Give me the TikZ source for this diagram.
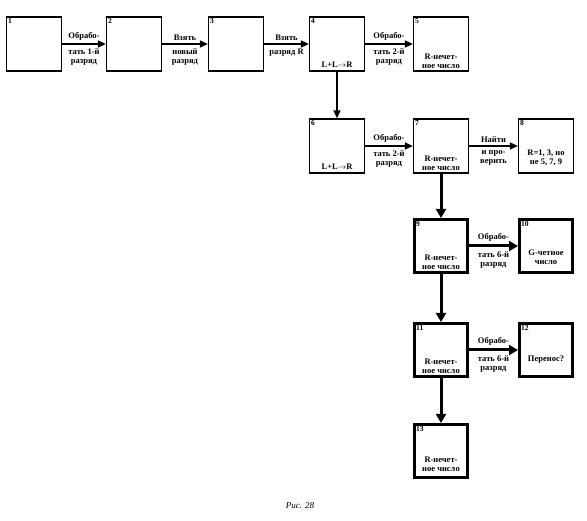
\documentclass[tikz,border=0pt]{standalone}
\usepackage{fontspec}
\setmainfont{Liberation Serif}
\usetikzlibrary{arrows.meta}
\begin{document}
\begin{tikzpicture}[x=1pt,y=-1pt,
  box/.style={draw,line width=1.2pt,minimum width=55pt,minimum height=54pt,inner sep=0pt},
  heavy box/.style={box,line width=3pt,minimum width=53pt,minimum height=53pt},
  num/.style={anchor=north west,inner sep=0pt,font=\fontsize{7.5}{7.5}\selectfont\bfseries},
  txt/.style={font=\fontsize{8.5}{9}\selectfont\bfseries,align=center,inner sep=1.2pt},
  up/.style={txt,midway,above=1.5pt},
  down/.style={txt,midway,below=3pt},
  arr/.style={line width=1.5pt,-{Triangle[length=8pt,width=7pt]}},
  heavy arr/.style={line width=3pt,-{Triangle[length=9pt,width=10pt]}}]
\useasboundingbox (0,0) rectangle (587,521);

% first row
\node[box] (b1) at (34,44) {};
\node[box] (b2) at (134,44) {};
\node[box] (b3) at (236,44) {};
\node[box] (b4) at (337,44) {};
\node[box] (b5) at (441,44) {};

% second row
\node[box] (b6) at (337,146) {};
\node[box] (b7) at (441,146) {};
\node[box] (b8) at (546,146) {};

% heavy boxes
\node[heavy box] (b9) at (441,246) {};
\node[heavy box] (b10) at (546,246) {};
\node[heavy box] (b11) at (441,350) {};
\node[heavy box] (b12) at (546,350) {};
\node[heavy box] (b13) at (441,451) {};

% numbers
\foreach \i in {1,...,8}
  \node[num] (n\i) at ([xshift=2pt,yshift=-2pt]b\i.north west) {\i};
\foreach \i in {9,...,13}
  \node[num] (n\i) at ([xshift=3pt,yshift=-3.5pt]b\i.north west) {\i};

% contents
\node[txt,anchor=south] (t4) at ([yshift=3pt]b4.south) {L+L$\rightarrow$R};
\node[txt,anchor=south] (t5) at ([yshift=2pt]b5.south) {R-нечет-\\ное число};
\node[txt,anchor=south] (t6) at ([yshift=3pt]b6.south) {L+L$\rightarrow$R};
\node[txt,anchor=south] (t7) at ([yshift=2pt]b7.south) {R-нечет-\\ное число};
\node[txt,anchor=south] (t8) at ([yshift=6pt]b8.south) {R=1, 3, но\\не 5, 7, 9};
\node[txt,anchor=south] (t9) at ([yshift=3pt]b9.south) {R-нечет-\\ное число};
\node[txt,anchor=south] (t10) at ([yshift=8pt]b10.south) {G-четное\\число};
\node[txt,anchor=south] (t11) at ([yshift=3pt]b11.south) {R-нечет-\\ное число};
\node[txt,anchor=south] (t12) at ([yshift=13pt]b12.south) {Перенос?};
\node[txt,anchor=south] (t13) at ([yshift=6pt]b13.south) {R-нечет-\\ное число};

% connectors
\draw[arr] (b1) -- (b2) node[up] {Обрабо-} node[down] {тать 1-й\\разряд};
\draw[arr] (b2) -- (b3) node[up] {Взять} node[down] {новый\\разряд};
\draw[arr] (b3) -- (b4) node[up] {Взять} node[down] {разряд R};
\draw[arr] (b4) -- (b5) node[up] {Обрабо-} node[down] {тать 2-й\\разряд};
\draw[arr] (b4) -- (b6);
\draw[arr] (b6) -- (b7) node[up] {Обрабо-} node[down] {тать 2-й\\разряд};
\draw[arr] (b7) -- (b8) node[up] {Найти} node[down] {и про-\\верить};
\draw[heavy arr] (b7) -- (b9);
\draw[heavy arr] (b9) -- (b10) node[up] {Обрабо-} node[down] {тать 6-й\\разряд};
\draw[heavy arr] (b9) -- (b11);
\draw[heavy arr] (b11) -- (b12) node[up] {Обрабо-} node[down] {тать 6-й\\разряд};
\draw[heavy arr] (b11) -- (b13);

\node[font=\fontsize{9}{9}\selectfont\itshape] (cap) at (300,506) {Рис. 28};
\end{tikzpicture}
\end{document}
